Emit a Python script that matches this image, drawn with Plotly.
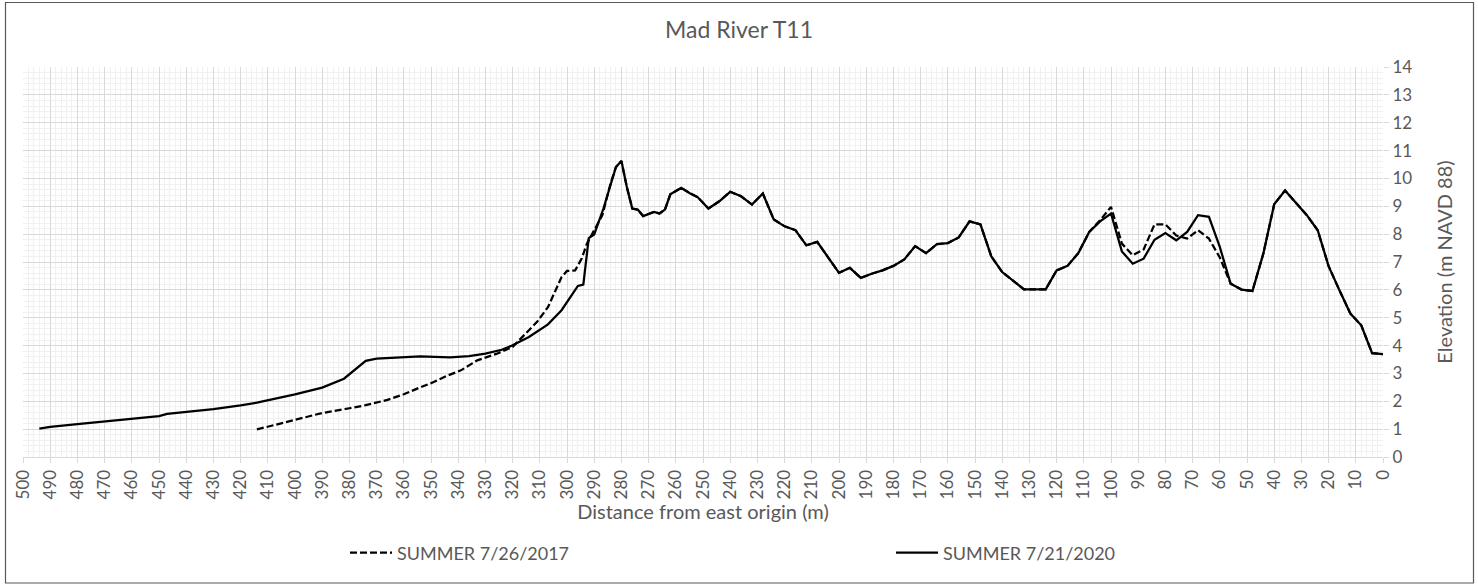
import plotly.graph_objects as go

# SUMMER 7/26/2017 (dashed)
dist_2017 = [414, 400, 390, 380, 374, 366, 360, 354, 349, 344, 339, 333, 326, 320, 315, 311, 307,
             302, 300, 297, 294.6, 292.7, 290, 287, 284, 282, 280, 278, 276, 274, 272, 268, 266,
             264, 262, 258, 255, 252, 248, 244, 240, 236, 232, 228, 224, 220, 216, 212, 208, 204,
             200, 196, 192, 188, 184, 180, 176, 172, 168, 164, 160, 156, 152, 148, 144, 140, 136,
             132, 124, 120, 116, 112, 108, 104, 100, 96, 92, 88, 84, 80, 76, 72, 68, 64, 60, 56,
             52, 48, 44, 40, 36, 32, 28, 24, 20, 16, 12, 8, 4, 0]
elev_2017 = [0.99, 1.32, 1.58, 1.75, 1.86, 2.05, 2.25, 2.50, 2.69, 2.92, 3.11, 3.47, 3.70, 3.95,
             4.43, 4.85, 5.38, 6.46, 6.68, 6.70, 7.12, 7.66, 8.14, 8.68, 9.81, 10.41, 10.63, 9.69,
             8.92, 8.88, 8.65, 8.80, 8.74, 8.88, 9.43, 9.66, 9.48, 9.33, 8.92, 9.18, 9.52, 9.36,
             9.06, 9.46, 8.53, 8.28, 8.14, 7.60, 7.72, 7.18, 6.61, 6.79, 6.43, 6.58, 6.70, 6.86,
             7.09, 7.57, 7.32, 7.64, 7.68, 7.88, 8.46, 8.35, 7.20, 6.64, 6.34, 6.02, 6.02, 6.70,
             6.86, 7.32, 8.08, 8.50, 8.98, 7.66, 7.24, 7.45, 8.35, 8.35, 7.95, 7.84, 8.14, 7.84,
             7.16, 6.22, 6.01, 5.96, 7.30, 9.07, 9.57, 9.12, 8.68, 8.14, 6.85, 5.98, 5.15, 4.73,
             3.73, 3.69]

# SUMMER 7/21/2020 (solid)
dist_2020 = [494, 490, 480, 470, 460, 450, 447, 440, 430, 420, 414, 400, 390, 382, 378.5, 374,
             370, 362, 354, 343, 336, 330, 324, 320, 314, 307, 302, 296, 294, 292, 290, 286.6,
             284, 282, 280, 278, 276, 274, 272, 268, 266, 264, 262, 258, 255, 252, 248, 244, 240,
             236, 232, 228, 224, 220, 216, 212, 208, 204, 200, 196, 192, 188, 184, 180, 176, 172,
             168, 164, 160, 156, 152, 148, 144, 140, 136, 132, 124, 120, 116, 112, 108, 104, 100,
             96, 92, 88, 84, 80, 76, 72, 68, 64, 60, 56, 52, 48, 44, 40, 36, 32, 28, 24, 20, 16,
             12, 8, 4, 0]
elev_2020 = [1.02, 1.08, 1.18, 1.27, 1.36, 1.47, 1.55, 1.62, 1.72, 1.85, 1.95, 2.25, 2.49, 2.81,
             3.09, 3.45, 3.53, 3.57, 3.61, 3.58, 3.62, 3.71, 3.85, 4.01, 4.31, 4.76, 5.27, 6.14,
             6.19, 7.86, 7.99, 8.92, 9.81, 10.41, 10.63, 9.69, 8.92, 8.88, 8.65, 8.80, 8.74, 8.88,
             9.43, 9.66, 9.48, 9.33, 8.92, 9.18, 9.52, 9.36, 9.06, 9.46, 8.53, 8.28, 8.14, 7.60,
             7.72, 7.18, 6.61, 6.79, 6.43, 6.58, 6.70, 6.86, 7.09, 7.57, 7.32, 7.64, 7.68, 7.88,
             8.46, 8.35, 7.20, 6.64, 6.34, 6.02, 6.02, 6.70, 6.86, 7.32, 8.08, 8.46, 8.74, 7.38,
             6.94, 7.12, 7.80, 8.04, 7.78, 8.08, 8.68, 8.62, 7.54, 6.22, 6.01, 5.96, 7.30, 9.07,
             9.57, 9.12, 8.68, 8.14, 6.85, 5.98, 5.15, 4.73, 3.73, 3.69]

FONT = "Lato"
GRAY = "#595959"

fig = go.Figure()
fig.add_trace(go.Scatter(x=dist_2017, y=elev_2017, mode="lines", name="SUMMER 7/26/2017",
                         line=dict(color="black", width=2.25, dash="7px,3px"),
                         legend="legend", showlegend=True))
fig.add_trace(go.Scatter(x=dist_2020, y=elev_2020, mode="lines", name="SUMMER 7/21/2020",
                         line=dict(color="black", width=2.25),
                         legend="legend2", showlegend=True))

fig.update_layout(
    width=1478, height=585,
    margin=dict(l=23, r=95, t=67, b=128, autoexpand=False),
    showlegend=True,
    paper_bgcolor="white", plot_bgcolor="white",
    font=dict(family=FONT, color=GRAY),
    title=dict(text="Mad River T11", x=0.5, xref="container", xanchor="center",
               y=1 - 30 / 585, yref="container", yanchor="middle",
               font=dict(size=23, color=GRAY, family=FONT)),
    xaxis=dict(range=[500, 0], tick0=0, dtick=10, tickangle=-90,
               showgrid=True, gridcolor="#d9d9d9", gridwidth=1,
               minor=dict(dtick=2, showgrid=True, gridcolor="#f0f0f0", gridwidth=1),
               showline=True, linecolor="#d9d9d9", linewidth=1,
               ticks="outside", ticklen=5, tickcolor="#d9d9d9",
               tickfont=dict(size=17, color=GRAY),
               zeroline=False,
               title=dict(text="Distance from east origin (m)", font=dict(size=20, color=GRAY),
                          standoff=2)),
    yaxis=dict(range=[0, 14], tick0=0, dtick=1, side="right",
               showgrid=True, gridcolor="#d9d9d9", gridwidth=1,
               minor=dict(dtick=0.2, showgrid=True, gridcolor="#f0f0f0", gridwidth=1),
               showline=False, ticks="outside", ticklen=5, tickcolor="#d9d9d9",
               tickfont=dict(size=17, color=GRAY), zeroline=False,
               title=dict(text="Elevation (m NAVD 88)", font=dict(size=20, color=GRAY),
                          standoff=26)),
    legend=dict(x=(345 - 23) / 1360, y=(457 - 553) / 390, xanchor="left", yanchor="middle",
                orientation="h", font=dict(size=18, color=GRAY), bgcolor="rgba(0,0,0,0)",
                itemwidth=42),
    legend2=dict(x=(891 - 23) / 1360, y=(457 - 553) / 390, xanchor="left", yanchor="middle",
                 orientation="h", font=dict(size=18, color=GRAY), bgcolor="rgba(0,0,0,0)",
                 itemwidth=42),
    shapes=[dict(type="rect", xref="paper", yref="paper",
                 x0=(5.5 - 23) / 1360, x1=(1473.5 - 23) / 1360,
                 y0=(457 - 583) / 390, y1=(457 - 2.5) / 390,
                 line=dict(color="#595959", width=1.2), fillcolor="rgba(0,0,0,0)", layer="below")],
)

fig.write_html("out.html",
               config={"displayModeBar": False},
               post_script="document.body.style.margin='0';document.body.style.overflow='hidden';")
